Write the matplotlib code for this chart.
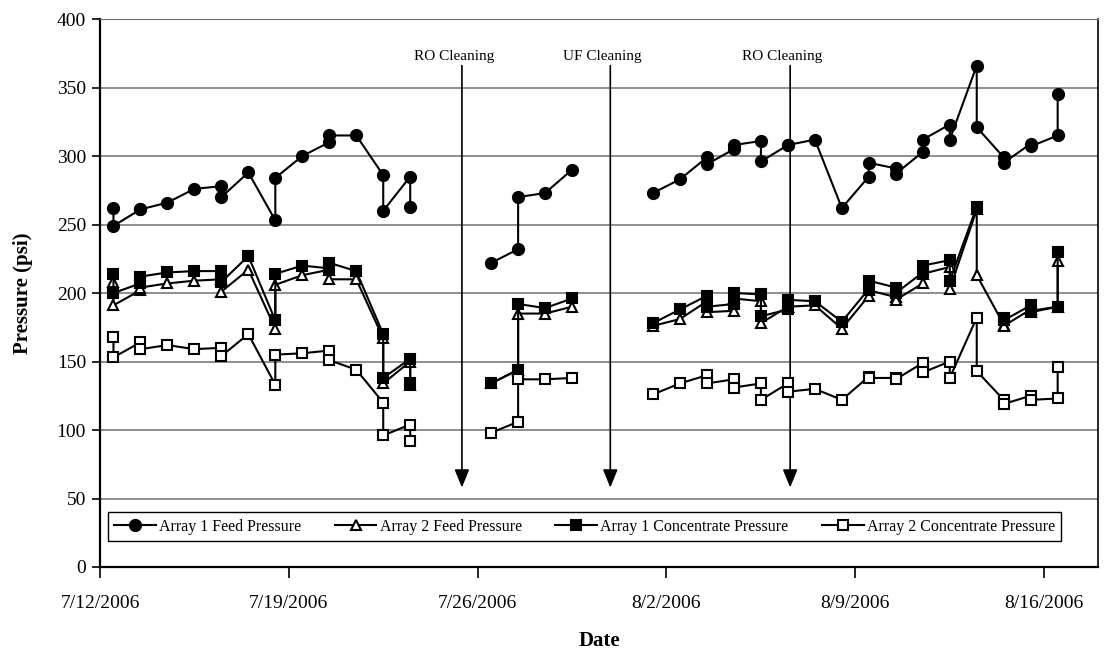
"""Pressure trends for the two RO arrays, with cleaning events marked."""
import numpy as np
import pandas as pd
import matplotlib
matplotlib.use("Agg")
import matplotlib.pyplot as plt

nan = np.nan

# one entry per reading (two readings on some days); NaN rows split the runs
READ_DATES = [
    "2006-07-12", "2006-07-12", "2006-07-13", "2006-07-13", "2006-07-14", "2006-07-15",
    "2006-07-16", "2006-07-16", "2006-07-17", "2006-07-18", "2006-07-18", "2006-07-19",
    "2006-07-20", "2006-07-20", "2006-07-21", "2006-07-22", "2006-07-22", "2006-07-23",
    "2006-07-23",
    "2006-07-25",
    "2006-07-26", "2006-07-27", "2006-07-27", "2006-07-28", "2006-07-29",
    "2006-07-31",
    "2006-08-01", "2006-08-02", "2006-08-03", "2006-08-03", "2006-08-04", "2006-08-04",
    "2006-08-05", "2006-08-05", "2006-08-06", "2006-08-06", "2006-08-07", "2006-08-08",
    "2006-08-09", "2006-08-09", "2006-08-10", "2006-08-10", "2006-08-11", "2006-08-11",
    "2006-08-12", "2006-08-12", "2006-08-13", "2006-08-13", "2006-08-14", "2006-08-14",
    "2006-08-15", "2006-08-15", "2006-08-16", "2006-08-16",
]

ARRAY1_FEED = [
    262, 249, 261, 261, 266, 276, 278, 270, 288, 253, 284, 300, 310, 315, 315, 286, 260, 285, 263,
    nan,
    222, 232, 270, 273, 290,
    nan,
    273, 283, 299, 294, 305, 308, 311, 296, 308, 308, 312, 262, 285, 295, 291, 287, 303, 312,
    323, 312, 366, 321, 299, 295, 309, 307, 315, 345,
]
ARRAY2_FEED = [
    208, 191, 202, 204, 207, 209, 210, 201, 217, 174, 206, 213, 217, 210, 210, 167, 134, 150, 133,
    nan,
    134, 144, 185, 185, 190,
    nan,
    176, 181, 194, 186, 187, 196, 194, 178, 190, 190, 191, 174, 198, 202, 197, 195, 207, 214,
    219, 203, 261, 213, 177, 176, 188, 186, 190, 223,
]
ARRAY1_CONC = [
    214, 200, 207, 212, 215, 216, 216, 208, 227, 180, 214, 220, 218, 222, 216, 170, 138, 152, 134,
    nan,
    134, 144, 192, 189, 196,
    nan,
    178, 188, 198, 190, 192, 200, 199, 183, 188, 195, 194, 179, 203, 209, 204, 200, 215, 220,
    224, 209, 263, nan, 182, 180, 191, 187, 190, 230,
]
ARRAY2_CONC = [
    168, 153, 164, 159, 162, 159, 160, 154, 170, 133, 155, 156, 158, 151, 144, 120, 96, 104, 92,
    nan,
    98, 106, 137, 137, 138,
    nan,
    126, 134, 140, 134, 137, 131, 134, 122, 134, 128, 130, 122, 139, 138, 138, 137, 149, 142,
    150, 138, 182, 143, 122, 119, 125, 122, 123, 146,
]

SERIES_NAMES = ["Array 1 Feed Pressure", "Array 2 Feed Pressure",
                "Array 1 Concentrate Pressure", "Array 2 Concentrate Pressure"]

CLEANING_TIMES = ["2006-07-25 10:00", "2006-07-30 22:00", "2006-08-06 14:00"]
CLEANING_LABELS = ["RO Cleaning", "UF Cleaning", "RO Cleaning"]

FONT = "Liberation Serif"


def plot_pressures(save_path):
    x = pd.to_datetime(READ_DATES) + pd.Timedelta(hours=12)
    fig = plt.figure(figsize=(11.07, 6.58), dpi=100)
    ax = fig.add_axes([0.0903, 0.1383, 0.9017, 0.8328])

    styles = [
        dict(marker="o", mfc="black", ms=8),
        dict(marker="^", mfc="white", ms=7.5),
        dict(marker="s", mfc="black", ms=7.5),
        dict(marker="s", mfc="white", ms=7),
    ]
    series = [ARRAY1_FEED, ARRAY2_FEED, ARRAY1_CONC, ARRAY2_CONC]
    for i, (vals, name, st) in enumerate(zip(series, SERIES_NAMES, styles)):
        ax.plot(x, vals, color="black", lw=1.5, mec="black", mew=1.5,
                label=name, zorder=3 + i, **st)

    # cleaning events
    for t, lbl in zip(pd.to_datetime(CLEANING_TIMES), CLEANING_LABELS):
        ax.annotate("", xy=(t, 58), xytext=(t, 366),
                    arrowprops=dict(arrowstyle="-|>,head_length=1.1,head_width=0.45",
                                    color="black", lw=1.2, shrinkA=0, shrinkB=0),
                    zorder=2)
        ax.text(t - pd.Timedelta(hours=7), 373, lbl, ha="center", va="center",
                fontsize=11, family=FONT)

    ax.set_ylim(0, 400)
    ax.set_yticks(np.arange(0, 401, 50))
    ax.set_xlim(pd.Timestamp("2006-07-12"), pd.Timestamp("2006-08-18"))
    ticks = pd.date_range("2006-07-12", "2006-08-16", freq="7D")
    ax.set_xticks(ticks)
    ax.set_xticklabels([f"{d.month}/{d.day}/{d.year}" for d in ticks])

    ax.grid(True, axis="y", color="#707070", lw=1.1)
    ax.set_axisbelow(True)
    ax.tick_params(axis="x", length=8, width=1.2, pad=12, labelsize=14)
    ax.tick_params(axis="y", length=6, width=1.2, pad=4, labelsize=14)
    for lab in ax.get_xticklabels() + ax.get_yticklabels():
        lab.set_family(FONT)
    for side in ["left", "bottom"]:
        ax.spines[side].set_linewidth(1.6)
    ax.spines["right"].set_linewidth(1.2)
    ax.spines["top"].set_color("#707070")

    ax.set_ylabel("Pressure (psi)", fontsize=15, fontweight="bold", family=FONT, labelpad=17)
    ax.set_xlabel("Date", fontsize=15, fontweight="bold", family=FONT, labelpad=14)

    leg = ax.legend(loc="lower left", bbox_to_anchor=(0.008, 0.047, 0.955, 0.0625),
                    mode="expand", ncol=4, borderaxespad=0, fancybox=False,
                    edgecolor="black", handlelength=2.6, handletextpad=0.2,
                    prop=dict(family=FONT, size=11.5), framealpha=1)
    leg.get_frame().set_linewidth(1.0)
    leg.set_zorder(10)

    fig.savefig(save_path, dpi=100)
    plt.close(fig)


if __name__ == "__main__":
    plot_pressures("out.png")
